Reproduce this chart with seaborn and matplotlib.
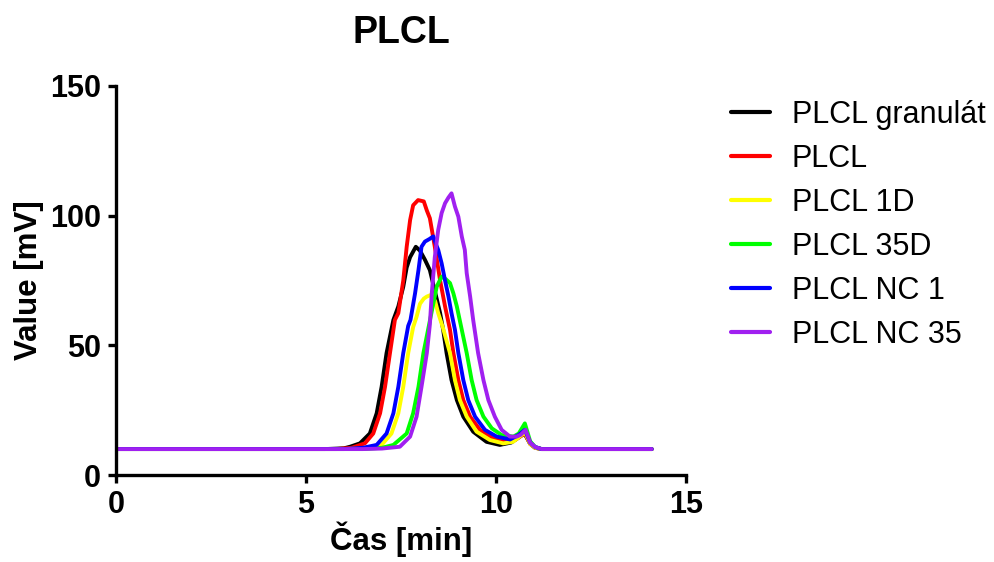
import numpy as np
import pandas as pd
import matplotlib
matplotlib.use('Agg')
import matplotlib.pyplot as plt
import seaborn as sns

# Values (time in min, signal in mV)
granulat_x = [0, 5.5, 6.0, 6.16, 6.42, 6.68, 6.86, 6.99, 7.12, 7.30, 7.43, 7.56, 7.65, 7.74, 7.89, 8.0,
              8.13, 8.26, 8.39, 8.53, 8.61, 8.70, 8.83, 8.97, 9.14, 9.40, 9.75, 10.1, 10.4, 10.6, 10.75,
              10.9, 11.03, 11.2, 14.1]
granulat_y = [10, 10, 10.3, 10.9, 12.2, 16, 23.8, 34, 47, 59.8, 65, 72.6, 80, 84, 88, 86.5,
              83, 79, 71, 62.4, 56, 47, 36.6, 28.9, 22.5, 16.7, 12.8, 11.6, 12.5, 14.5, 16,
              12, 10.5, 10, 10]

plcl_x = [0, 5.8, 6.2, 6.55, 6.77, 6.95, 7.08, 7.21, 7.34, 7.43, 7.56, 7.65, 7.74, 7.82, 7.95, 8.1,
          8.18, 8.26, 8.39, 8.53, 8.66, 8.79, 8.88, 9.01, 9.14, 9.32, 9.58, 9.93, 10.28, 10.5, 10.65,
          10.76, 10.9, 11.03, 11.2, 14.1]
plcl_y = [10, 10, 10.5, 12.2, 16, 23.8, 34, 47, 59.8, 62.4, 75, 88, 98.3, 104, 106, 105.5,
          102, 99, 88, 75, 65, 56, 47, 36.6, 28.9, 22.5, 17.4, 14.1, 12.8, 13.5, 15,
          16, 12, 10.5, 10, 10]

d1_x = [0, 6.0, 6.5, 6.99, 7.25, 7.43, 7.56, 7.69, 7.82, 7.91, 8.0, 8.1, 8.18, 8.3, 8.4, 8.48,
        8.6, 8.79, 8.92, 9.05, 9.23, 9.49, 9.84, 10.19, 10.45, 10.6, 10.76, 10.9, 11.03, 11.2, 14.1]
d1_y = [10, 10, 10.3, 11.6, 16, 23.8, 34, 47, 57, 61, 66, 68, 68.8, 69.5, 67, 62.4,
        57, 47, 36.6, 28.9, 22.5, 16.7, 13.5, 12.2, 12.8, 14.5, 16.5, 12, 10.5, 10, 10]

d35_x = [0, 6.5, 7.0, 7.30, 7.65, 7.82, 7.96, 8.09, 8.24, 8.35, 8.44, 8.57, 8.68, 8.79, 8.88, 8.97,
         9.10, 9.23, 9.36, 9.49, 9.67, 9.89, 10.15, 10.46, 10.6, 10.76, 10.9, 11.03, 11.2, 14.1]
d35_y = [10, 10, 10.5, 11.6, 16, 23.8, 34, 47, 58, 66, 72.6, 76.5, 75.5, 74, 70, 65,
         56, 47, 36.6, 28.9, 22.5, 18, 15.4, 14.8, 16, 19.9, 13, 10.8, 10, 10]

nc1_x = [0, 6.0, 6.5, 6.86, 7.12, 7.30, 7.43, 7.56, 7.69, 7.75, 7.87, 7.96, 8.04, 8.13, 8.25, 8.35,
         8.42, 8.48, 8.57, 8.66, 8.75, 8.83, 8.92, 9.01, 9.14, 9.27, 9.45, 9.71, 10.02, 10.37, 10.6,
         10.76, 10.9, 11.03, 11.2, 14.1]
nc1_y = [10, 10, 10.5, 11.6, 16, 23.8, 34, 47, 57.5, 59.8, 70, 79, 88, 90, 91, 92,
         89, 86.8, 81.6, 75, 68.8, 62.4, 56, 47, 36.6, 28.9, 22.5, 17.4, 14.8, 13.7, 15.5,
         17.4, 12.5, 10.8, 10, 10]

nc35_x = [0, 6.5, 7.0, 7.47, 7.74, 7.91, 8.04, 8.18, 8.26, 8.31, 8.39, 8.48, 8.57, 8.66, 8.75, 8.83,
          8.92, 9.01, 9.10, 9.18, 9.23, 9.32, 9.40, 9.53, 9.67, 9.80, 9.97, 10.15, 10.37, 10.54,
          10.65, 10.78, 10.9, 11.03, 11.2, 14.1]
nc35_y = [10, 10, 10.2, 10.9, 14.8, 22.5, 34, 47, 58, 70, 84, 94.5, 101, 104.8, 107, 108.6,
          103.5, 99.6, 92, 86.8, 77.8, 68.8, 59.8, 47, 36.6, 28.9, 22.5, 17.4, 14.8, 14.8,
          15.5, 17.4, 12.5, 10.8, 10, 10]

labels = ['PLCL granulát', 'PLCL', 'PLCL 1D', 'PLCL 35D', 'PLCL NC 1', 'PLCL NC 35']
colors = ['#000000', '#FF0000', '#FFFF00', '#00FF00', '#0000FF', '#A020F0']
xs = [granulat_x, plcl_x, d1_x, d35_x, nc1_x, nc35_x]
ys = [granulat_y, plcl_y, d1_y, d35_y, nc1_y, nc35_y]

frames = []
for lab, x, y in zip(labels, xs, ys):
    frames.append(pd.DataFrame({'Čas': x, 'Value': y, 'Sample': lab}))
df = pd.concat(frames, ignore_index=True)

sns.set_style('ticks')
plt.rcParams['font.family'] = ['Liberation Sans', 'DejaVu Sans']
plt.rcParams.update({'text.color': 'black', 'axes.labelcolor': 'black',
                     'xtick.color': 'black', 'ytick.color': 'black',
                     'axes.edgecolor': 'black'})

fig = plt.figure(figsize=(9.95, 5.62), dpi=100)
ax = fig.add_axes([0.1166, 0.1548, 0.5728, 0.6922])

sns.lineplot(data=df, x='Čas', y='Value', hue='Sample', hue_order=labels,
             palette=colors, linewidth=2.8, estimator=None, sort=False, ax=ax)

ax.set_xlim(0, 15)
ax.set_ylim(0, 150)
ax.set_xticks([0, 5, 10, 15])
ax.set_yticks([0, 50, 100, 150])
sns.despine(ax=ax)
for s in ['left', 'bottom']:
    ax.spines[s].set_linewidth(2.4)
ax.tick_params(direction='out', length=6, width=2.4, labelsize=22, pad=5)
for t in ax.get_xticklabels() + ax.get_yticklabels():
    t.set_fontweight('bold')

ax.set_xlabel('Čas [min]', fontsize=22.5, fontweight='bold', labelpad=1)
ax.set_ylabel('Value [mV]', fontsize=22.5, fontweight='bold', labelpad=4)
ax.set_title('PLCL', fontsize=27, fontweight='bold', pad=31)

sns.move_legend(ax, 'upper left', bbox_to_anchor=(1.03, 1.035), frameon=False, title=None,
                fontsize=22, handlelength=1.3, handletextpad=0.7, labelspacing=0.46)
for line in ax.get_legend().get_lines():
    line.set_linewidth(3)

fig.savefig('out.png', dpi=100)
